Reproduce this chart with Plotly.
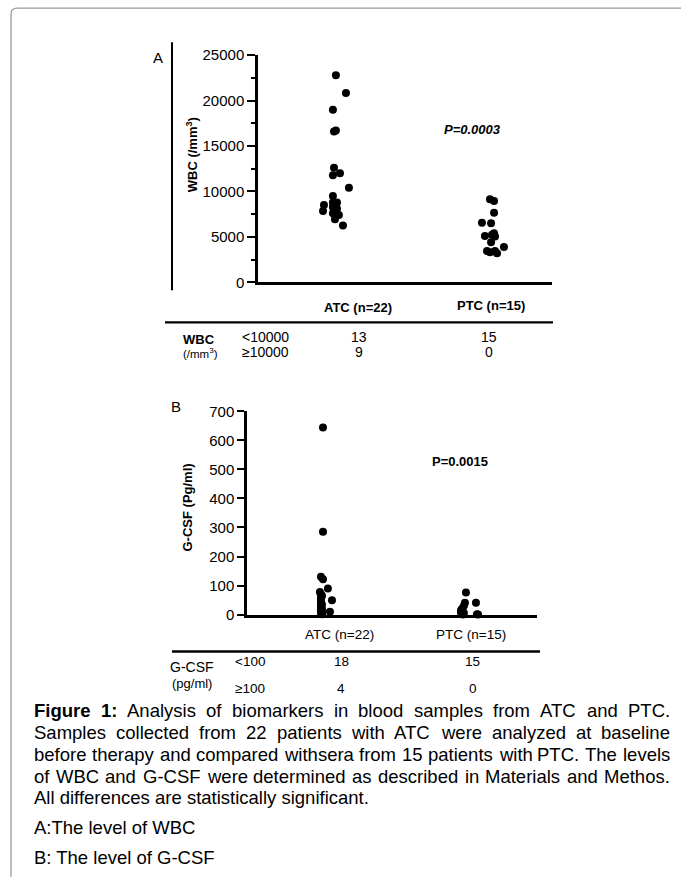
import plotly.graph_objects as go

W, H = 681, 877

# ---------------- data ----------------
groups = ["ATC (n=22)", "PTC (n=15)"]

atc_wbc = [22800, 20850, 19000, 16700, 16600, 12600, 11800, 12000, 10400, 9500, 8800,
           8800, 8500, 8300, 7850, 7850, 7400, 6950, 6250, 8600, 8100, 7600]
atc_wbc_jitter = [0.006, 0.07, -0.013, 0.006, -0.006, -0.006, -0.013, 0.032, 0.089, -0.013, -0.013,
                  0.013, -0.07, -0.013, -0.076, 0.0, 0.025, 0.0, 0.051, 0.006, 0.013, -0.013]
ptc_wbc = [9150, 8950, 7650, 6550, 6500, 5400, 5100, 5050, 4400, 3900, 3450, 3450, 3200, 5250, 3300]
ptc_wbc_jitter = [-0.013, 0.013, 0.013, -0.064, -0.006, 0.013, -0.045, 0.019, -0.006, 0.076,
                  -0.032, 0.019, 0.032, 0.0, -0.013]

atc_gcsf = [645, 285, 130, 122, 90, 78, 59, 49, 41, 26, 10, 1, 70, 65, 52, 35, 30, 20, 15, 12, 5, 3]
atc_gcsf_jitter = [0.007, 0.007, -0.007, 0.007, 0.041, -0.014, -0.007, 0.069, -0.007, -0.007, 0.055,
                   0.0, -0.007, 0.0, -0.007, 0.0, -0.007, 0.0, -0.007, 0.0, -0.007, 0.0]
ptc_gcsf = [76, 41, 41, 15, 0, 0, 10, 8, 5, 3, 2, 20, 30, 1, 6]
ptc_gcsf_jitter = [-0.007, -0.014, 0.062, -0.041, -0.028, 0.076, -0.028, -0.034, -0.021, -0.028,
                   -0.034, -0.034, -0.021, 0.069, -0.041]

wbc_rows = ["<10000", "≥10000"]
wbc_atc_counts = [13, 9]
wbc_ptc_counts = [15, 0]
gcsf_rows = ["<100", "≥100"]
gcsf_atc_counts = [18, 4]
gcsf_ptc_counts = [15, 0]

p_wbc = "P=0.0003"
p_gcsf = "P=0.0015"

caption_lines = [
    "Figure 1: Analysis of biomarkers in blood samples from ATC and PTC.",
    "Samples collected from 22 patients with ATC were analyzed at baseline",
    "before therapy and compared withsera from 15 patients with PTC. The levels",
    "of WBC and G-CSF were determined as described in Materials and Methos.",
    "All differences are statistically significant.",
]
legend_lines = ["A:The level of WBC", "B: The level of G-CSF"]

# ---------------- helpers ----------------
SY, OY = 1.0204, -9.0   # vertical correction for the capture


def px(x):
    return x / W


def py(y):
    return 1 - (y * SY + OY) / H


FONT = "Liberation Sans, Arial, sans-serif"

REG = {' ': 278, '.': 278, ':': 278, '-': 333, 'A': 667, 'B': 667, 'C': 722, 'D': 722,
       'E': 667, 'F': 611, 'G': 778, 'H': 722, 'I': 278, 'M': 833, 'P': 667, 'S': 667,
       'T': 611, 'W': 944, 'a': 556, 'b': 556, 'c': 500, 'd': 556, 'e': 556, 'f': 278,
       'g': 556, 'h': 556, 'i': 222, 'j': 222, 'k': 500, 'l': 222, 'm': 833, 'n': 556,
       'o': 556, 'p': 556, 'q': 556, 'r': 333, 's': 500, 't': 278, 'u': 556, 'v': 500,
       'w': 722, 'x': 500, 'y': 500, 'z': 500}
BOLD = {'F': 611, 'i': 278, 'g': 611, 'u': 611, 'r': 389, 'e': 556, ':': 333, ' ': 278}


def text_w(s, size, bold=False):
    tot = 0
    for ch in s:
        if ch.isdigit():
            tot += 556
        elif bold:
            tot += BOLD.get(ch, 611)
        else:
            tot += REG.get(ch, 556)
    return tot * size / 1000.0


annotations = []


def ann(text, x, y, size=13, xanchor="center", yanchor="middle", angle=0, family=FONT):
    annotations.append(dict(
        text=text, x=px(x), y=py(y), xref="paper", yref="paper",
        xanchor=xanchor, yanchor=yanchor, showarrow=False, textangle=angle,
        font=dict(family=family, size=size, color="black")))


# ---------------- figure ----------------
fig = go.Figure()

fig.add_trace(go.Scatter(
    x=[1 + j for j in atc_wbc_jitter], y=atc_wbc, mode="markers",
    marker=dict(size=8, color="black"), xaxis="x", yaxis="y", cliponaxis=False))
fig.add_trace(go.Scatter(
    x=[2 + j for j in ptc_wbc_jitter], y=ptc_wbc, mode="markers",
    marker=dict(size=8, color="black"), xaxis="x", yaxis="y", cliponaxis=False))
fig.add_trace(go.Scatter(
    x=[1 + j for j in atc_gcsf_jitter], y=atc_gcsf, mode="markers",
    marker=dict(size=8, color="black"), xaxis="x2", yaxis="y2", cliponaxis=False))
fig.add_trace(go.Scatter(
    x=[2 + j for j in ptc_gcsf_jitter], y=ptc_gcsf, mode="markers",
    marker=dict(size=8, color="black"), xaxis="x2", yaxis="y2", cliponaxis=False))

ax_common = dict(showgrid=False, zeroline=False, showline=True, linecolor="black",
                 fixedrange=True)
fig.update_layout(
    # Panel A axes: y-axis at x=258, 25000 at y=55, 0 at y=282; ATC at x=335, PTC at x=492
    xaxis=dict(domain=[px(258), px(552)], range=[0.510, 2.382], showticklabels=False,
               ticks="", linewidth=2.5, anchor="y", **ax_common),
    yaxis=dict(domain=[py(282), py(55)], range=[0, 25000], dtick=5000, tick0=0,
               tickformat="d",
               ticks="outside", ticklen=8, tickwidth=2, tickcolor="black", linewidth=2.5,
               tickfont=dict(family=FONT, size=15, color="black"), anchor="x",
               minor=dict(dtick=2500, ticks="outside", ticklen=4, tickwidth=2,
                          tickcolor="black", showgrid=False),
               **ax_common),
    # Panel B axes: y-axis at x=247, 700 at y=411, 0 at y=614; ATC at x=322, PTC at x=467
    xaxis2=dict(domain=[px(247), px(537)], range=[0.483, 2.483], showticklabels=False,
                ticks="", linewidth=2.5, anchor="y2", **ax_common),
    yaxis2=dict(domain=[py(614), py(411)], range=[0, 700], dtick=100, tick0=0,
                tickformat="d",
                ticks="outside", ticklen=7, tickwidth=2, tickcolor="black", linewidth=2.5,
                tickfont=dict(family=FONT, size=15, color="black"), anchor="x2",
                **ax_common),
)

# ---------------- panel A decorations ----------------
ann("A", 158, 57, size=15)
ann("<b>WBC (/mm<sup>3</sup>)</b>", 192, 155, size=13, angle=-90)
ann("<b><i>" + p_wbc + "</i></b>", 473, 129, size=13)
ann("<b>" + groups[0] + "</b>", 358, 307, size=13)
ann("<b>" + groups[1] + "</b>", 491, 305, size=13)
ann("<b>WBC</b>", 199, 339, size=13)
ann("(/mm<sup>3</sup>)", 200, 353, size=11.5)
row_y_a = [337, 352]
for i in range(2):
    ann(wbc_rows[i].replace("<", "&lt;"), 265, row_y_a[i], size=14)
    ann(str(wbc_atc_counts[i]), 359, row_y_a[i], size=14)
    ann(str(wbc_ptc_counts[i]), 489, row_y_a[i], size=14)

# ---------------- panel B decorations ----------------
ann("B", 176, 406, size=15)
ann("<b>G-CSF (Pg/ml)</b>", 187, 507, size=13, angle=-90)
ann("<b>" + p_gcsf + "</b>", 460, 461, size=13)
ann(groups[0], 339, 634, size=13.5)
ann(groups[1], 471, 634, size=13.5)
ann("G-CSF", 192, 666, size=14)
ann("(pg/ml)", 192, 683, size=13)
row_y_b = [661, 688]
for i in range(2):
    ann(gcsf_rows[i].replace("<", "&lt;"), 250, row_y_b[i], size=13.5)
    ann(str(gcsf_atc_counts[i]), 341, row_y_b[i], size=13.5)
    ann(str(gcsf_ptc_counts[i]), 473, row_y_b[i], size=13.5)

# ---------------- caption (justified) ----------------
CAP = 18.5
LEFT, RIGHT = 32, 668
cap_y = [710, 732, 754, 776, 797]
for li, line in enumerate(caption_lines):
    words = line.split(" ")
    bold_flags = [False] * len(words)
    if li == 0:
        bold_flags[0] = True
        bold_flags[1] = True
    if li == len(caption_lines) - 1:
        ann(line, LEFT, cap_y[li], size=CAP, xanchor="left")
        continue
    widths = [text_w(w, CAP, b) for w, b in zip(words, bold_flags)]
    gap = (RIGHT - LEFT - sum(widths)) / (len(words) - 1)
    x = LEFT
    for w, wd, b in zip(words, widths, bold_flags):
        t = "<b>" + w + "</b>" if b else w
        ann(t, x, cap_y[li], size=CAP, xanchor="left")
        x += wd + gap

ann(legend_lines[0], LEFT, 827, size=CAP, xanchor="left")
ann(legend_lines[1], LEFT, 857, size=CAP, xanchor="left")

# ---------------- shapes ----------------
shapes = []
fx, fy, r = 11, 8, 6
shapes.append(dict(
    type="path", xref="paper", yref="paper",
    path=(f"M {px(fx)} {py(H + 20)} L {px(fx)} {py(fy + r)} "
          f"Q {px(fx)} {py(fy)} {px(fx + r)} {py(fy)} L {px(W + 5)} {py(fy)}"),
    line=dict(color="#9a9a9a", width=1.3)))
shapes.append(dict(type="line", xref="paper", yref="paper",
                   x0=px(172), x1=px(172), y0=py(42), y1=py(290),
                   line=dict(color="black", width=2)))
shapes.append(dict(type="line", xref="paper", yref="paper",
                   x0=px(165), x1=px(553), y0=py(322), y1=py(322),
                   line=dict(color="black", width=2.2)))
shapes.append(dict(type="line", xref="paper", yref="paper",
                   x0=px(172), x1=px(540), y0=py(651), y1=py(651),
                   line=dict(color="black", width=2.5)))

fig.update_layout(
    width=W, height=H, autosize=False,
    margin=dict(l=0, r=0, t=0, b=0, pad=0),
    paper_bgcolor="white", plot_bgcolor="white",
    showlegend=False, annotations=annotations, shapes=shapes,
    font=dict(family=FONT, color="black"),
)

post = (
    "var de=document.documentElement, b=document.body;"
    "de.style.margin='0';de.style.padding='0';de.style.overflow='hidden';de.style.height='877px';"
    "b.style.margin='0';b.style.padding='0';b.style.overflow='hidden';b.style.height='877px';"
    "var gd=document.getElementById('{plot_id}');"
    "gd.style.position='fixed';gd.style.left='0px';gd.style.top='0px';"
)

fig.write_html("out.html", config={"displayModeBar": False}, post_script=post)
